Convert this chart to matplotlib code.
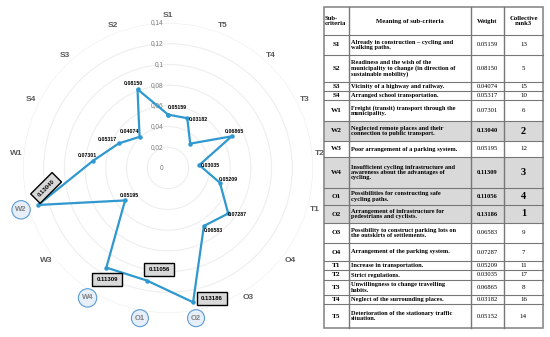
import numpy as np
import matplotlib
matplotlib.use("Agg")
import matplotlib.pyplot as plt
from matplotlib.patches import Rectangle

# Sub-criteria, in the order they go round the radar (counter-clockwise from the top)
criteria = ["S1", "S2", "S3", "S4", "W1", "W2", "W3", "W4",
            "O1", "O2", "O3", "O4", "T1", "T2", "T3", "T4", "T5"]
weights = [0.05159, 0.08150, 0.04074, 0.05317, 0.07301, 0.13040, 0.05195, 0.11309,
           0.11056, 0.13186, 0.06583, 0.07287, 0.05209, 0.03035, 0.06865, 0.03182, 0.05152]
ranks = [13, 5, 15, 10, 6, 2, 12, 3, 4, 1, 9, 7, 11, 17, 8, 16, 14]
# point labels as they are printed on the chart (T4 has none, T5 shows 0.03182)
point_labels = ["0.05159", "0.08150", "0.04074", "0.05317", "0.07301", "0.13040", "0.05195",
                "0.11309", "0.11056", "0.13186", "0.06583", "0.07287", "0.05209", "0.03035",
                "0.06865", "", "0.03182"]
highlighted = ["W2", "W4", "O1", "O2"]
r_ticks = [0, 0.02, 0.04, 0.06, 0.08, 0.10, 0.12, 0.14]
r_tick_labels = ["0", "0,02", "0,04", "0,06", "0,08", "0,1", "0,12", "0,14"]

meanings = [
    "Already in construction \u2013 cycling and\nwalking paths.",
    "Readiness and the wish of the\nmunicipality to change (in direction of\nsustainable mobility)",
    "Vicinity of a highway and railway.",
    "Arranged school transportation.",
    "Freight (transit) transport through the\nmunicipality.",
    "Neglected remote places and their\nconnection to public transport.",
    "Poor arrangement of a parking system.",
    "Insufficient cycling infrastructure and\nawareness about the advantages of\ncycling.",
    "Possibilities for constructing safe\ncycling paths.",
    "Arrangement of infrastructure for\npedestrians and cyclists.",
    "Possibility to construct parking lots on\nthe outskirts of settlements.",
    "Arrangement of the parking system.",
    "Increase in transportation.",
    "Strict regulations.",
    "Unwillingness to change travelling\nhabits.",
    "Neglect of the surrounding places.",
    "Deterioration of the stationary traffic\nsituation.",
]
table_header = ["Sub-\ncriteria", "Meaning of sub-criteria", "Weight", "Collective\nrank3"]

# label offsets from their points, in pixels (x right, y down)
label_offsets = [(9, -7), (-4, -6), (-10, -5), (-11, -4), (-5, -6), (8, -17), (4, -5),
                 (1, 12), (12, -11), (19, -4), (9, 5), (9, 1), (8, -3), (11, 0),
                 (3, -5), (0, 0), (11, 1)]

W, H = 550, 337
fig = plt.figure(figsize=(W / 100, H / 100), dpi=100)

# ---------------- table (drawn in pixel coordinates) ----------------
tab = fig.add_axes([0, 0, 1, 1])
tab.set_xlim(0, W)
tab.set_ylim(H, 0)
tab.axis("off")

col_x = [324, 349, 471, 504, 543]
row_y = [7, 35, 55, 82, 91, 100, 121, 141, 157, 188, 205, 223, 243, 261, 270, 280, 295, 304, 328]
serif = "Liberation Serif"
line_col = "#777777"

for i, code in enumerate(criteria):
    y0, y1 = row_y[i + 1], row_y[i + 2]
    hl = code in highlighted
    if hl:
        tab.add_patch(Rectangle((col_x[0], y0), col_x[-1] - col_x[0], y1 - y0,
                                facecolor="#d9d9d9", edgecolor="none", zorder=0))
    ym = (y0 + y1) / 2
    tab.text((col_x[0] + col_x[1]) / 2, ym, code, ha="center", va="center",
             fontsize=5.2, fontweight="bold", family=serif)
    tab.text(col_x[1] + 2, ym, meanings[i], ha="left", va="center", fontsize=4.6,
             fontweight="bold", family=serif, linespacing=1.1)
    tab.text((col_x[2] + col_x[3]) / 2, ym, "%.5f" % weights[i], ha="center", va="center",
             fontsize=4.7, fontweight="bold" if hl else "normal", family=serif)
    tab.text((col_x[3] + col_x[4]) / 2, ym, str(ranks[i]), ha="center", va="center",
             fontsize=7.5 if hl else 5, fontweight="bold" if hl else "normal", family=serif)

hy = (row_y[0] + row_y[1]) / 2
tab.text(col_x[0] + 1, hy, table_header[0], ha="left", va="center", fontsize=4.8,
         fontweight="bold", family=serif, linespacing=1.1)
for j in range(1, 4):
    tab.text((col_x[j] + col_x[j + 1]) / 2, hy, table_header[j], ha="center", va="center",
             fontsize=4.8, fontweight="bold", family=serif, linespacing=1.1)

for y in row_y[1:-1]:
    tab.plot([col_x[0], col_x[-1]], [y, y], color=line_col, lw=0.8)
for x in col_x[1:-1]:
    tab.plot([x, x], [row_y[0], row_y[-1]], color=line_col, lw=1.0)
tab.add_patch(Rectangle((col_x[0], row_y[0]), col_x[-1] - col_x[0], row_y[-1] - row_y[0],
                        facecolor="none", edgecolor="#8a8a8a", lw=1.2))

# ---------------- radar chart ----------------
cx, cy, R = 168, 168, 145
ax = fig.add_axes([(cx - R) / W, (H - cy - R) / H, 2 * R / W, 2 * R / H], projection="polar")
ax.patch.set_alpha(0)
ax.set_theta_zero_location("N")
ax.set_theta_direction(1)
n = len(criteria)
theta = np.arange(n) * 2 * np.pi / n
ax.set_ylim(0, 0.14)
ax.set_yticks(r_ticks[1:])
ax.set_yticklabels([])
ax.set_xticks(theta)
ax.set_xticklabels([])
ax.yaxis.grid(True, color="#eeeeee", lw=0.8)
ax.xaxis.grid(False)
ax.spines["polar"].set_visible(False)

for v, lab in zip(r_ticks, r_tick_labels):
    ax.annotate(lab, (0, v), xytext=(-3, 0), textcoords="offset points", ha="right",
                va="center", fontsize=4.7, color="#7a7a7a", family="Liberation Sans")

line_color = "#2f98ce"
ax.plot(np.append(theta, theta[0]), weights + weights[:1], color=line_color, lw=1.6,
        marker="o", ms=2.2, zorder=3)

for t, code in zip(theta, criteria):
    if code in highlighted:
        ax.text(t, 0.1475, code, ha="center", va="center", fontsize=5.5, fontweight="bold",
                color="#7f7f7f", family="Liberation Sans",
                bbox=dict(boxstyle="circle,pad=0.45", fc="#e6eff8", ec="#5b9bd5", lw=0.8))
    else:
        ax.text(t, 0.1475, code, ha="center", va="center", fontsize=6, fontweight="bold",
                color="#595959", family="Liberation Sans")

for t, v, code, lab, (dx, dy) in zip(theta, weights, criteria, point_labels, label_offsets):
    if not lab:
        continue
    if code in highlighted:
        ax.annotate(lab, (t, v), xytext=(dx * 0.72, -dy * 0.72), textcoords="offset points",
                    ha="center", va="center", fontsize=4.3, fontweight="bold",
                    family="Liberation Sans", rotation=45 if code == "W2" else 0, zorder=5,
                    bbox=dict(boxstyle="square,pad=0.7", fc="#d9d9d9", ec="black", lw=1.0))
    else:
        ax.annotate(lab, (t, v), xytext=(dx * 0.72, -dy * 0.72), textcoords="offset points",
                    ha="center", va="center", fontsize=3.8, fontweight="bold",
                    family="Liberation Sans", zorder=5)

fig.savefig("out.png", dpi=100)
